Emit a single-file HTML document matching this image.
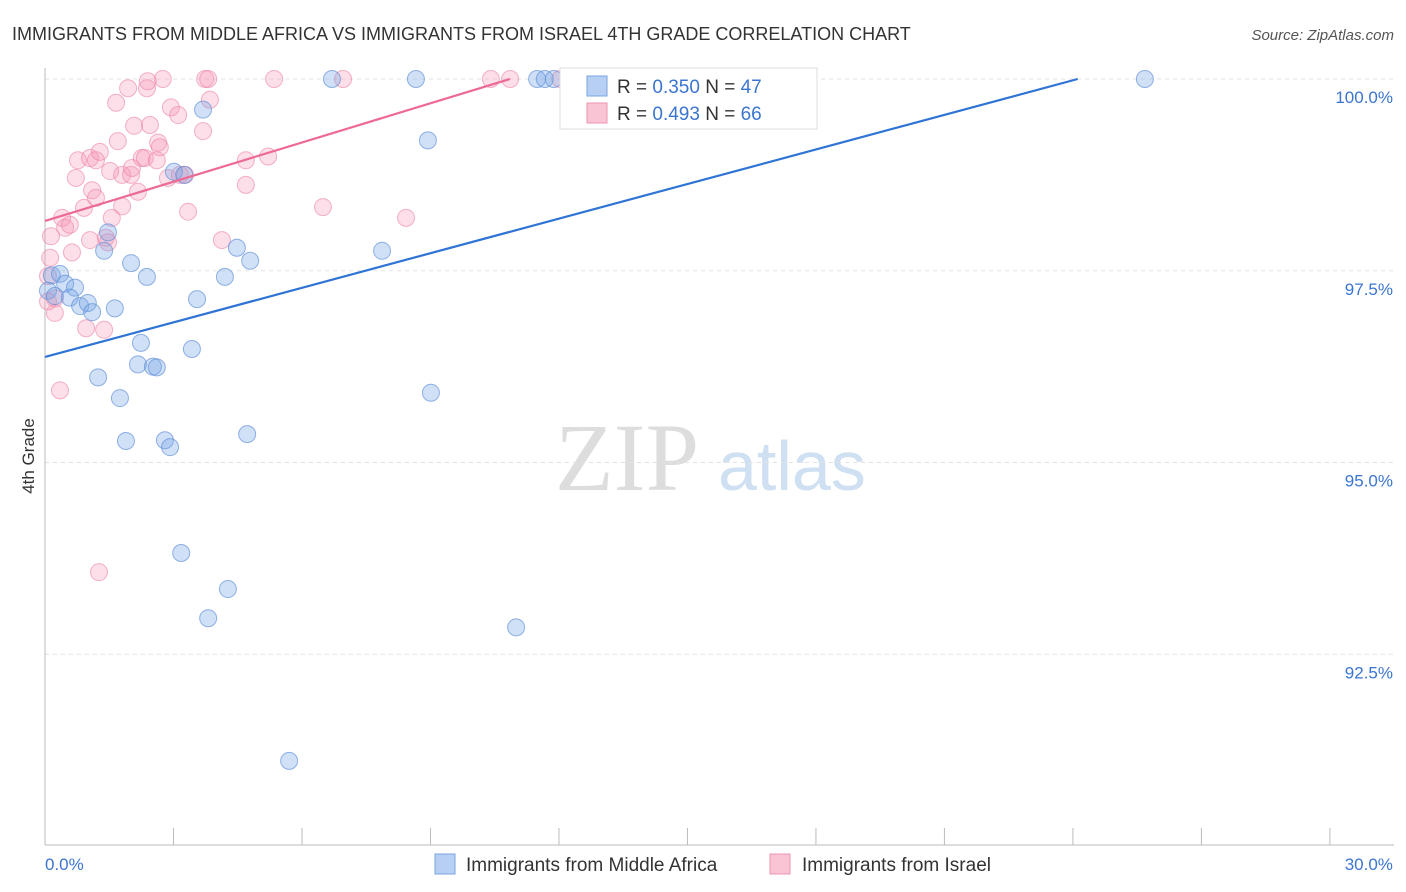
<!DOCTYPE html>
<html><head><meta charset="utf-8"><style>
body{margin:0;background:#fff;font-family:"Liberation Sans",sans-serif;}
svg{display:block}
</style></head><body>
<svg id="chart" width="1406" height="892">
<text x="12" y="40" font-size="18" fill="#333">IMMIGRANTS FROM MIDDLE AFRICA VS IMMIGRANTS FROM ISRAEL 4TH GRADE CORRELATION CHART</text>
<text x="1394" y="40" font-size="15" fill="#555" font-style="italic" text-anchor="end">Source: ZipAtlas.com</text>
<text transform="translate(34,456) rotate(-90)" font-size="17" fill="#333" text-anchor="middle">4th Grade</text>
<g><text x="555" y="490" font-size="96" fill="#ddd" font-family="Liberation Serif,serif">ZIP</text><text x="718" y="490" font-size="70" fill="#cfe0f3">atlas</text></g>
<g id="grid"></g><g id="axes"></g><g id="pts"></g><g id="trend"></g>
<g>
<rect x="560" y="68" width="257" height="61" fill="#fff" stroke="#ddd"/>
<rect x="587" y="76" width="20" height="20" fill="#b6cff2" stroke="#7aa6e0"/>
<text x="617" y="93" font-size="19" fill="#333">R = <tspan fill="#3b75d0">0.350</tspan>   N = <tspan fill="#3b75d0">47</tspan></text>
<rect x="587" y="103" width="20" height="20" fill="#f9c4d4" stroke="#ee94b2"/>
<text x="617" y="120" font-size="19" fill="#333">R = <tspan fill="#3b75d0">0.493</tspan>   N = <tspan fill="#3b75d0">66</tspan></text>
</g>
<g>
<rect x="435" y="854" width="20" height="20" fill="#b6cff2" stroke="#7aa6e0"/>
<text x="466" y="871" font-size="19" fill="#333">Immigrants from Middle Africa</text>
<rect x="770" y="854" width="20" height="20" fill="#f9c4d4" stroke="#ee94b2"/>
<text x="802" y="871" font-size="19" fill="#333">Immigrants from Israel</text>
</g>
</svg>
<script>
const xTickLabels=["0.0%","30.0%"];
const yTicks=[100,97.5,95,92.5];
const yTickLabels=["100.0%","97.5%","95.0%","92.5%"];
const blueX=[0.16,0.35,0.47,0.70,0.07,0.23,0.58,0.82,1.0,1.1,1.63,1.38,1.47,2.01,2.38,3.55,4.20,4.48,4.79,3.69,3.01,3.25,2.24,3.43,2.17,2.52,2.61,1.24,1.75,1.89,2.80,2.92,4.72,3.18,4.27,3.81,5.70,7.87,8.94,9.01,11.0,6.70,8.66,11.49,11.67,11.88,25.68];
const blueY=[97.44,97.46,97.33,97.28,97.24,97.17,97.15,97.04,97.08,96.96,97.01,97.76,98.0,97.60,97.42,97.13,97.42,97.80,97.63,99.60,98.79,98.75,96.56,96.48,96.28,96.25,96.24,96.11,95.84,95.28,95.29,95.20,95.37,93.82,93.35,92.97,91.11,97.76,99.20,95.91,92.85,100,100,100,100,100,100];
const pinkX=[0.14,0.12,0.07,0.23,0.23,0.35,0.40,0.47,0.58,0.63,0.72,0.77,0.91,1.05,1.10,1.19,1.19,1.28,1.42,1.47,1.56,1.66,1.70,1.80,1.80,1.94,2.01,2.03,2.08,2.17,2.26,2.33,2.38,2.61,2.64,2.68,2.75,2.94,3.11,2.87,3.15,3.34,3.69,3.74,3.81,3.85,4.13,4.69,4.69,5.21,5.35,6.49,6.96,8.43,10.41,10.86,1.26,0.96,1.38,2.40,12.03,15.88,0.07,1.52,2.45,1.05,3.27];
const pinkY=[97.95,97.67,97.43,97.14,96.95,95.94,98.19,98.06,98.10,97.74,98.71,98.94,98.32,98.97,98.55,98.94,98.45,99.05,97.93,97.87,98.19,99.69,99.19,98.34,98.75,99.88,98.75,98.84,99.39,98.53,98.97,98.97,99.88,98.94,99.17,99.11,100,99.63,99.53,98.71,98.75,98.27,99.32,100,100,99.73,97.90,98.94,98.62,98.99,100,98.33,100,98.19,100,100,93.57,96.75,96.73,99.97,100,100,97.1,98.8,99.4,97.9,98.75];
const trendBlue=[96.376,0.1503];
const trendPink=[98.149,0.1705];
const X=v=>45+v*42.83, Y=v=>79+(100-v)*76.7;
const NS="http://www.w3.org/2000/svg";
function mk(tag,attrs,parent){const e=document.createElementNS(NS,tag);for(const k in attrs)e.setAttribute(k,attrs[k]);parent.appendChild(e);return e;}
const grid=document.getElementById('grid'),axes=document.getElementById('axes'),pts=document.getElementById('pts'),tr=document.getElementById('trend');
yTicks.forEach((t,i)=>{
 const l=mk('line',{x1:45,x2:1394,y1:Y(t),y2:Y(t),stroke:'#e3e3e3','stroke-dasharray':'4,4'},grid);
 
 
 const tx=mk('text',{x:1393,y:Y(t)+24,'font-size':17,fill:'#3b75d0','text-anchor':'end'},axes);
 tx.textContent=yTickLabels[i];
 
 
});
const xa=mk('line',{x1:45,x2:1394,y1:845,y2:845,stroke:'#bbb'},axes);


const ya=mk('line',{x1:45,x2:45,y1:68,y2:845,stroke:'#bbb'},axes);


for(let i=0;i<=10;i++){const t=mk('line',{x1:X(i*3),x2:X(i*3),y1:828,y2:845,stroke:'#bbb'},axes);
 
 }
[[0,'start'],[30,'end']].forEach((p,i)=>{const t=mk('text',{x:X(p[0])+(i?63:0),y:870,'font-size':17,fill:'#3b75d0','text-anchor':p[1]},axes);t.textContent=xTickLabels[i];
 
 });
pinkX.forEach((x,i)=>{const c=mk('circle',{cx:X(x),cy:Y(pinkY[i]),r:8.5,fill:'rgba(244,150,180,0.3)',stroke:'rgba(236,130,165,0.6)'},pts);
 
 });
blueX.forEach((x,i)=>{const c=mk('circle',{cx:X(x),cy:Y(blueY[i]),r:8.5,fill:'rgba(120,165,230,0.35)',stroke:'rgba(90,140,215,0.65)'},pts);
 
 });
function trend(p,col,name){const x2=(100-p[0])/p[1];const l=mk('line',{x1:X(0),y1:Y(p[0]),x2:X(x2),y2:Y(100),stroke:col,'stroke-width':2.2},tr);
 
 }
trend(trendBlue,'#2f74d4','middle-africa-trendline');
trend(trendPink,'#ec6a93','israel-trendline');
</script>
</body></html>
